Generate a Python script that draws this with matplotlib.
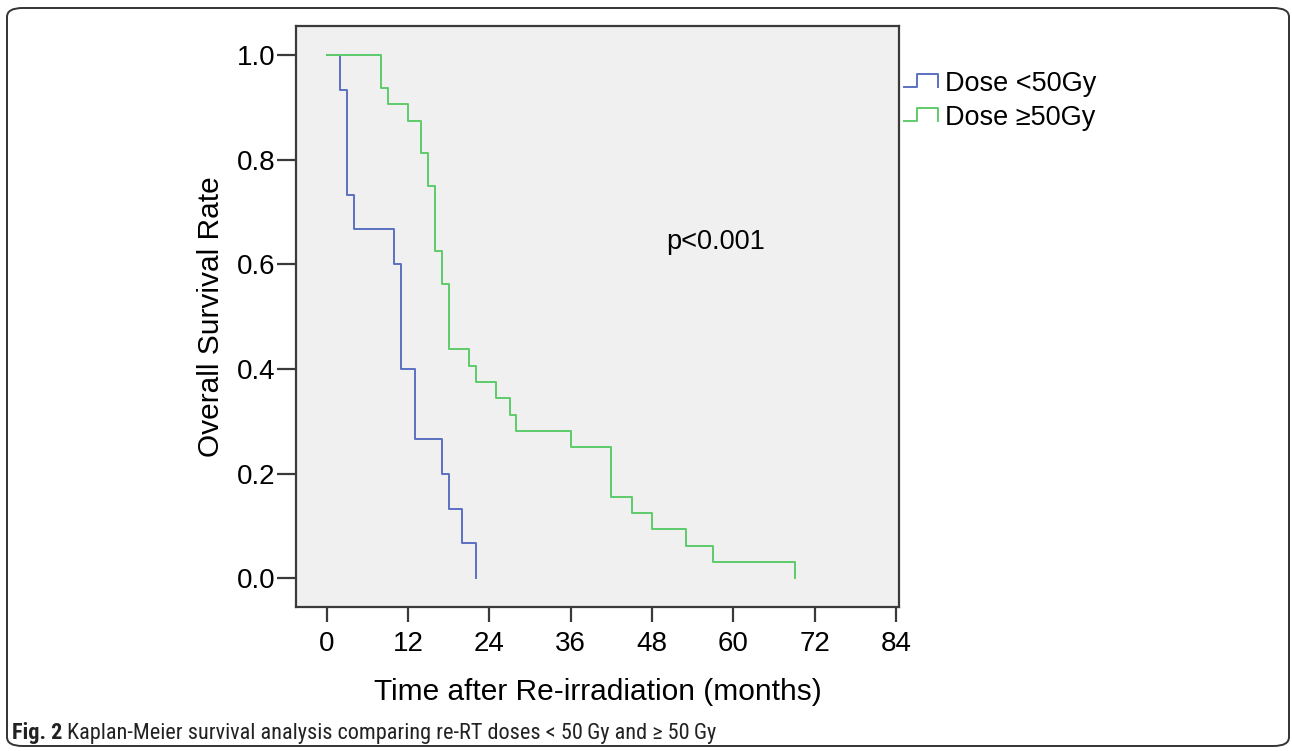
import matplotlib
matplotlib.use("Agg")
import matplotlib.pyplot as plt
from matplotlib.lines import Line2D
from matplotlib.patches import FancyBboxPatch
from matplotlib import font_manager

# ---- data ----
low_time = [0, 2, 3, 4, 10, 11, 13, 17, 18, 20, 22]
low_surv = [1.0, 0.933, 0.733, 0.667, 0.6, 0.4, 0.267, 0.2, 0.133, 0.067, 0.0]
high_time = [0, 8, 9, 12, 14, 15, 16, 17, 18, 21, 22, 25, 27, 28, 36, 42, 45, 48, 53, 57, 69]
high_surv = [1.0, 0.9375, 0.906, 0.875, 0.8125, 0.75, 0.625, 0.5625, 0.4375, 0.406, 0.375,
             0.344, 0.3125, 0.281, 0.25, 0.156, 0.125, 0.094, 0.0625, 0.031, 0.0]
series_labels = ["Dose <50Gy", "Dose \u226550Gy"]
x_ticks = [0, 12, 24, 36, 48, 60, 72, 84]
y_ticks = [0.0, 0.2, 0.4, 0.6, 0.8, 1.0]
y_ticklabels = ["0.0", "0.2", "0.4", "0.6", "0.8", "1.0"]

BLUE = "#5b70c2"
GREEN = "#5ecb6b"
W, H = 1292, 751

avail = {f.name for f in font_manager.fontManager.ttflist}
main_font = ["Liberation Sans", "DejaVu Sans"]
if "Liberation Sans Narrow" in avail:
    cap_font = ["Liberation Sans Narrow", "DejaVu Sans"]
elif "Roboto Condensed" in avail:
    cap_font = ["Roboto Condensed", "DejaVu Sans"]
else:
    cap_font = ["Roboto", "DejaVu Sans"]

plt.rcParams["font.family"] = main_font

fig = plt.figure(figsize=(W / 100, H / 100), dpi=100)
fig.patch.set_facecolor("white")

# axes placement in pixels
L, R, T, B = 296, 899, 26, 607
ax = fig.add_axes([L / W, 1 - B / H, (R - L) / W, (B - T) / H])
ax.set_facecolor("#f0f0f0")

ax.plot(low_time, low_surv, drawstyle="steps-post", color=BLUE, lw=1.4)
ax.plot(high_time, high_surv, drawstyle="steps-post", color=GREEN, lw=1.4)

ax.set_xlim(-4.5, 84.4)
ax.set_ylim(-0.055, 1.056)
ax.set_xticks(x_ticks)
ax.set_xticklabels([str(t) for t in x_ticks])
ax.set_yticks(y_ticks)
ax.set_yticklabels(y_ticklabels)

for s in ax.spines.values():
    s.set_color("#3a3a3a")
    s.set_linewidth(1.6)

ax.tick_params(axis="x", direction="out", length=11, width=1.6, color="#3a3a3a",
               labelsize=20, pad=6)
ax.tick_params(axis="y", direction="out", length=14, width=1.6, color="#3a3a3a",
               labelsize=20, pad=1)

ax.set_xlabel("Time after Re-irradiation (months)", fontsize=21.5)
ax.set_ylabel("Overall Survival Rate", fontsize=21.5)
ax.xaxis.set_label_coords(0.5, -0.122)
ax.yaxis.set_label_coords(-0.118, 0.5)

ax.text(0.614, 0.628, "p<0.001", transform=ax.transAxes, fontsize=19.5,
        ha="left", va="center")

# ---- legend (step glyphs + labels) ----
def px(x, y):
    return x / W, 1 - y / H

for i, (lab, col) in enumerate(zip(series_labels, [BLUE, GREEN])):
    dy = i * 34
    xs = [904, 917, 917, 938, 938]
    ys = [87 + dy, 87 + dy, 74 + dy, 74 + dy, 87 + dy]
    pts = [px(a, b) for a, b in zip(xs, ys)]
    fig.add_artist(Line2D([p[0] for p in pts], [p[1] for p in pts],
                          color=col, lw=1.4, transform=fig.transFigure))
    fx, fy = px(945, 84 + dy)
    fig.text(fx, fy, lab, fontsize=19.5, ha="left", va="center")

# ---- outer frame & caption ----
frame = FancyBboxPatch((7 / W, 1 - 746 / H), (1289 - 7) / W, (746 - 8) / H,
                       boxstyle="round,pad=0,rounding_size=0.012",
                       transform=fig.transFigure, fill=False,
                       edgecolor="#333333", lw=1.4)
fig.add_artist(frame)

cx, cy = px(12, 733)
t1 = fig.text(cx, cy, "Fig. 2", fontsize=16, fontweight="bold", family=cap_font,
              ha="left", va="center", color="#222222")
fig.canvas.draw()
bb = t1.get_window_extent()
fig.text((bb.x1 + 5) / W, cy,
         "Kaplan-Meier survival analysis comparing re-RT doses < 50\u2009Gy and \u2265 50\u2009Gy",
         fontsize=16, family=cap_font, ha="left", va="center", color="#222222")

fig.savefig("out.png", dpi=100, facecolor="white")
